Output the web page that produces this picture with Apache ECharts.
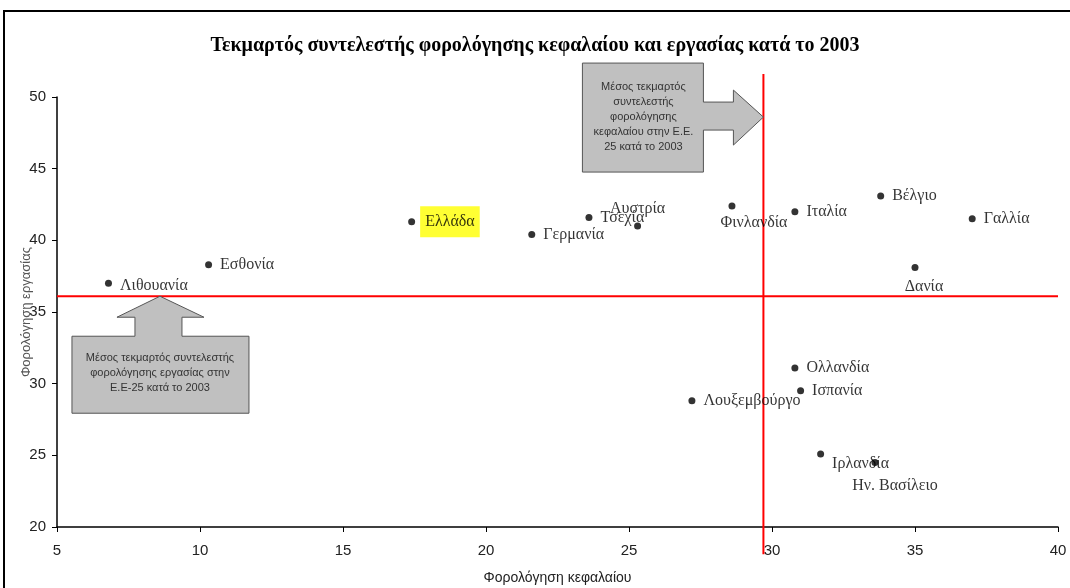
<!DOCTYPE html>
<html><head><meta charset="utf-8">
<script src="https://cdn.jsdelivr.net/npm/echarts@6/dist/echarts.min.js"></script>
<style>html,body{margin:0;padding:0;background:#fff}#c{width:1070px;height:588px}</style>
</head><body><div id="c"></div>
<script>
const countries = ['Λιθουανία','Εσθονία','Ελλάδα','Γερμανία','Τσεχία','Αυστρία','Φινλανδία','Ιταλία','Βέλγιο','Γαλλία','Δανία','Ολλανδία','Ισπανία','Λουξεμβούργο','Ιρλανδία','Ην. Βασίλειο'];
const capitalTax = [6.8, 10.3, 17.4, 21.6, 23.6, 25.3, 28.6, 30.8, 33.8, 37.0, 35.0, 30.8, 31.0, 27.2, 31.7, 33.6];
const labourTax  = [37.0, 38.3, 41.3, 40.4, 41.6, 41.0, 42.4, 42.0, 43.1, 41.5, 38.1, 31.1, 29.5, 28.8, 25.1, 24.5];
const avgCapital = 29.7;
const avgLabour = 36.1;
const xTicks = [5, 40, 5];
const yTicks = [20, 50, 5];
const title = 'Τεκμαρτός συντελεστής φορολόγησης κεφαλαίου και εργασίας κατά το 2003';
const noteCapital = 'Μέσος τεκμαρτός\nσυντελεστής\nφορολόγησης\nκεφαλαίου στην Ε.Ε.\n25 κατά το 2003';
const noteLabour = 'Μέσος τεκμαρτός συντελεστής\nφορολόγησης εργασίας στην\nΕ.Ε-25 κατά το 2003';

// label placement per country (style only)
const labelPos = {
  'Αυστρία': {position:'top', offset:[0,2]},
  'Φινλανδία': {position:'bottom', offset:[22,-3]},
  'Δανία': {position:'bottom', offset:[9,0]},
  'Λιθουανία': {position:'right', offset:[0,2]},
  'Ιρλανδία': {position:'right', offset:[0,10]},
  'Ην. Βασίλειο': {position:'bottom', offset:[20,4]}
};

const serif = '"Liberation Serif","DejaVu Serif",serif';
const sans = '"Liberation Sans Narrow","Liberation Sans",Arial,sans-serif';
const sansW = '"Liberation Sans",Arial,sans-serif';

const chart = echarts.init(document.getElementById('c'));
const points = countries.map((n,i)=>{
  const lp = labelPos[n] || {position:'right', offset:[0,0]};
  const d = {name:n, value:[capitalTax[i], labourTax[i]], label:{position:lp.position, offset:lp.offset}};
  if(n==='Ελλάδα'){ d.label.backgroundColor='#ffff00'; d.label.padding=[8,5,7,5]; d.label.offset=[-3,0]; }
  return d;
});

chart.setOption({
  animation:false,
  title:{text:title, left:'center', top:31, textStyle:{fontFamily:serif, fontWeight:'bold', fontSize:20, color:'#000'}},
  grid:{left:57, right:12, top:97, bottom:61, containLabel:false, outerBoundsMode:'none'},
  xAxis:{type:'value', min:xTicks[0], max:xTicks[1], interval:xTicks[2],
    name:'Φορολόγηση κεφαλαίου', nameLocation:'middle', nameGap:44,
    nameTextStyle:{fontFamily:sans, fontSize:14, color:'#222'},
    axisLine:{lineStyle:{color:'#000', width:1.5}}, axisTick:{length:5, lineStyle:{color:'#000'}},
    axisLabel:{fontFamily:sans, fontSize:15, color:'#222', margin:16}, splitLine:{show:false}},
  yAxis:{type:'value', min:yTicks[0], max:yTicks[1], interval:yTicks[2],
    name:'Φορολόγηση εργασίας', nameLocation:'middle', nameGap:24, nameRotate:90, nameMoveOverlap:false,
    nameTextStyle:{fontFamily:sans, fontSize:13, color:'#555'},
    axisLine:{show:true, lineStyle:{color:'#000', width:1.5}}, axisTick:{show:true, length:5, lineStyle:{color:'#000'}},
    axisLabel:{fontFamily:sans, fontSize:15, color:'#222', margin:11}, splitLine:{show:false}},
  series:[
    {type:'line', data:[[avgCapital, 18.1],[avgCapital, 51.6]], symbol:'none', clip:false,
      lineStyle:{color:'#ff0000', width:2}, silent:true, z:1},
    {type:'line', data:[[xTicks[0], avgLabour],[xTicks[1], avgLabour]], symbol:'none', clip:false,
      lineStyle:{color:'#ff0000', width:2}, silent:true, z:1},
    {type:'scatter', data:points, symbolSize:7, itemStyle:{color:'#000'}, z:3,
      label:{show:true, formatter:'{b}', fontFamily:serif, fontSize:16, color:'#000', distance:8}}
  ]
});

// annotation arrows anchored to averages
const tipV = chart.convertToPixel({gridIndex:0}, [avgCapital, 48.6]);
const tipH = chart.convertToPixel({gridIndex:0}, [8.6, avgLabour]);
const gray = {fill:'#c0c0c0', stroke:'#555', lineWidth:1};
const tx = tipV[0], ty = tipV[1];
const hx = tipH[0], hy = tipH[1];
chart.setOption({graphic:[
  {type:'rect', shape:{x:4, y:11, width:1080, height:600}, style:{fill:'none', stroke:'#000', lineWidth:2}, silent:true},
  {type:'polygon', shape:{points:[[tx-181,ty-54],[tx-60,ty-54],[tx-60,ty-15],[tx-30,ty-15],[tx-30,ty-27],[tx,ty],[tx-30,ty+28],[tx-30,ty+13],[tx-60,ty+13],[tx-60,ty+55],[tx-181,ty+55]]}, style:gray, z:5},
  {type:'text', x:tx-120, y:ty, style:{text:noteCapital, fontFamily:sansW, fontSize:11, fill:'#333', align:'center', verticalAlign:'middle', lineHeight:15}, z:6},
  {type:'polygon', shape:{points:[[hx,hy],[hx+44,hy+21],[hx+22,hy+21],[hx+22,hy+40],[hx+89,hy+40],[hx+89,hy+117],[hx-88,hy+117],[hx-88,hy+40],[hx-25,hy+40],[hx-25,hy+21],[hx-43,hy+21]]}, style:gray, z:5},
  {type:'text', x:hx, y:hy+77, style:{text:noteLabour, fontFamily:sansW, fontSize:11, fill:'#333', align:'center', verticalAlign:'middle', lineHeight:15}, z:6}
]});
</script></body></html>
